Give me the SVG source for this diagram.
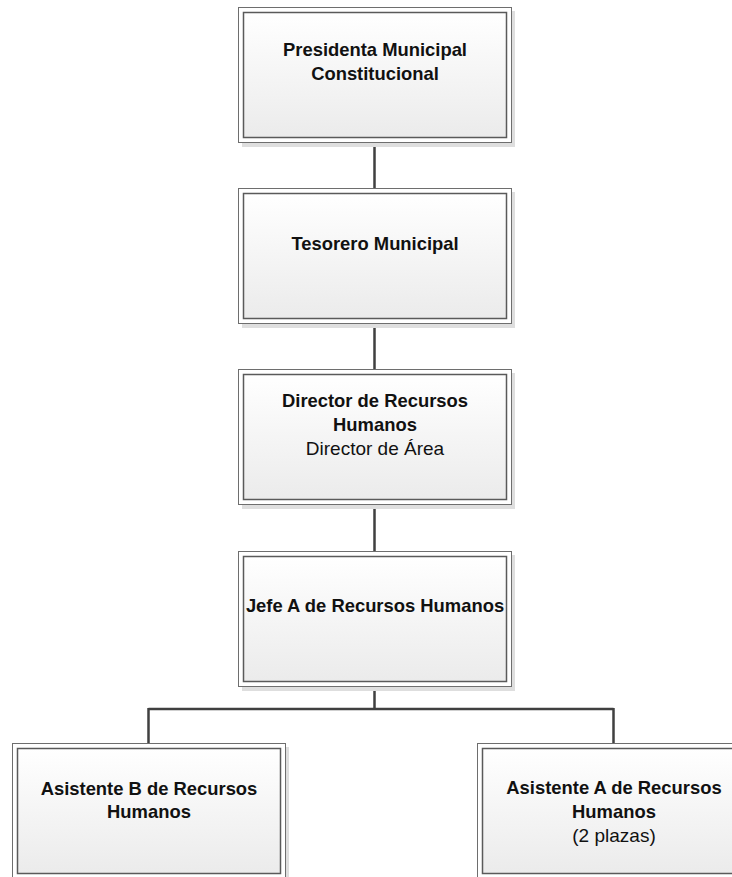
<svg xmlns="http://www.w3.org/2000/svg" width="732" height="877" viewBox="0 0 732 877">
<defs>
<linearGradient id="g" x1="0" y1="0" x2="0" y2="1">
<stop offset="0" stop-color="#ffffff"/>
<stop offset="1" stop-color="#ebebeb"/>
</linearGradient>
<style>
.sh{fill:#dedede;}
.out{fill:#ffffff;stroke:#6e6e6e;stroke-width:1;}
.in{fill:url(#g);stroke:#5a5a5a;stroke-width:1.5;}
.t{font-family:"Liberation Sans",Arial,sans-serif;font-size:18.4px;text-anchor:middle;fill:#111;}
.b{font-weight:bold;}
.r{font-size:19px;}
.c{fill:none;stroke:#404040;stroke-width:2.5;}
</style>
</defs>
<rect width="732" height="877" fill="#ffffff"/>
<g id="connectors">
<path class="c" d="M374.5 143V188M374.5 324V369M374.5 505V551M374.5 687V709M148.5 709H613.5M148.5 708V743M613.5 708V743"/>
</g>
<g id="n1">
<rect class="sh" x="242" y="11" width="273" height="136"/>
<rect class="out" x="238.5" y="7.5" width="273" height="135"/>
<rect class="in" x="243.5" y="12.5" width="263" height="125"/>
<text class="t b" x="375" y="56">Presidenta Municipal</text>
<text class="t b" x="375" y="80">Constitucional</text>
</g>
<g id="n2">
<rect class="sh" x="242" y="192" width="273" height="136"/>
<rect class="out" x="238.5" y="188.5" width="273" height="135"/>
<rect class="in" x="243.5" y="193.5" width="263" height="125"/>
<text class="t b" x="375" y="250">Tesorero Municipal</text>
</g>
<g id="n3">
<rect class="sh" x="242" y="373" width="273" height="136"/>
<rect class="out" x="238.5" y="369.5" width="273" height="135"/>
<rect class="in" x="243.5" y="374.5" width="263" height="125"/>
<text class="t b" x="375" y="407">Director de Recursos</text>
<text class="t b" x="375" y="431">Humanos</text>
<text class="t r" x="375" y="455">Director de Área</text>
</g>
<g id="n4">
<rect class="sh" x="242" y="555" width="273" height="136"/>
<rect class="out" x="238.5" y="551.5" width="273" height="135"/>
<rect class="in" x="243.5" y="556.5" width="263" height="125"/>
<text class="t b" x="375" y="612">Jefe A de Recursos Humanos</text>
</g>
<g id="n5">
<rect class="sh" x="16" y="747" width="273" height="136"/>
<rect class="out" x="12.5" y="743.5" width="273" height="135"/>
<rect class="in" x="17.5" y="748.5" width="263" height="125"/>
<text class="t b" x="149" y="795">Asistente B de Recursos</text>
<text class="t b" x="149" y="818">Humanos</text>
</g>
<g id="n6">
<rect class="sh" x="481" y="747" width="273" height="136"/>
<rect class="out" x="477.5" y="743.5" width="273" height="135"/>
<rect class="in" x="482.5" y="748.5" width="263" height="125"/>
<text class="t b" x="614" y="794">Asistente A de Recursos</text>
<text class="t b" x="614" y="818">Humanos</text>
<text class="t r" x="614" y="842">(2 plazas)</text>
</g>
</svg>
